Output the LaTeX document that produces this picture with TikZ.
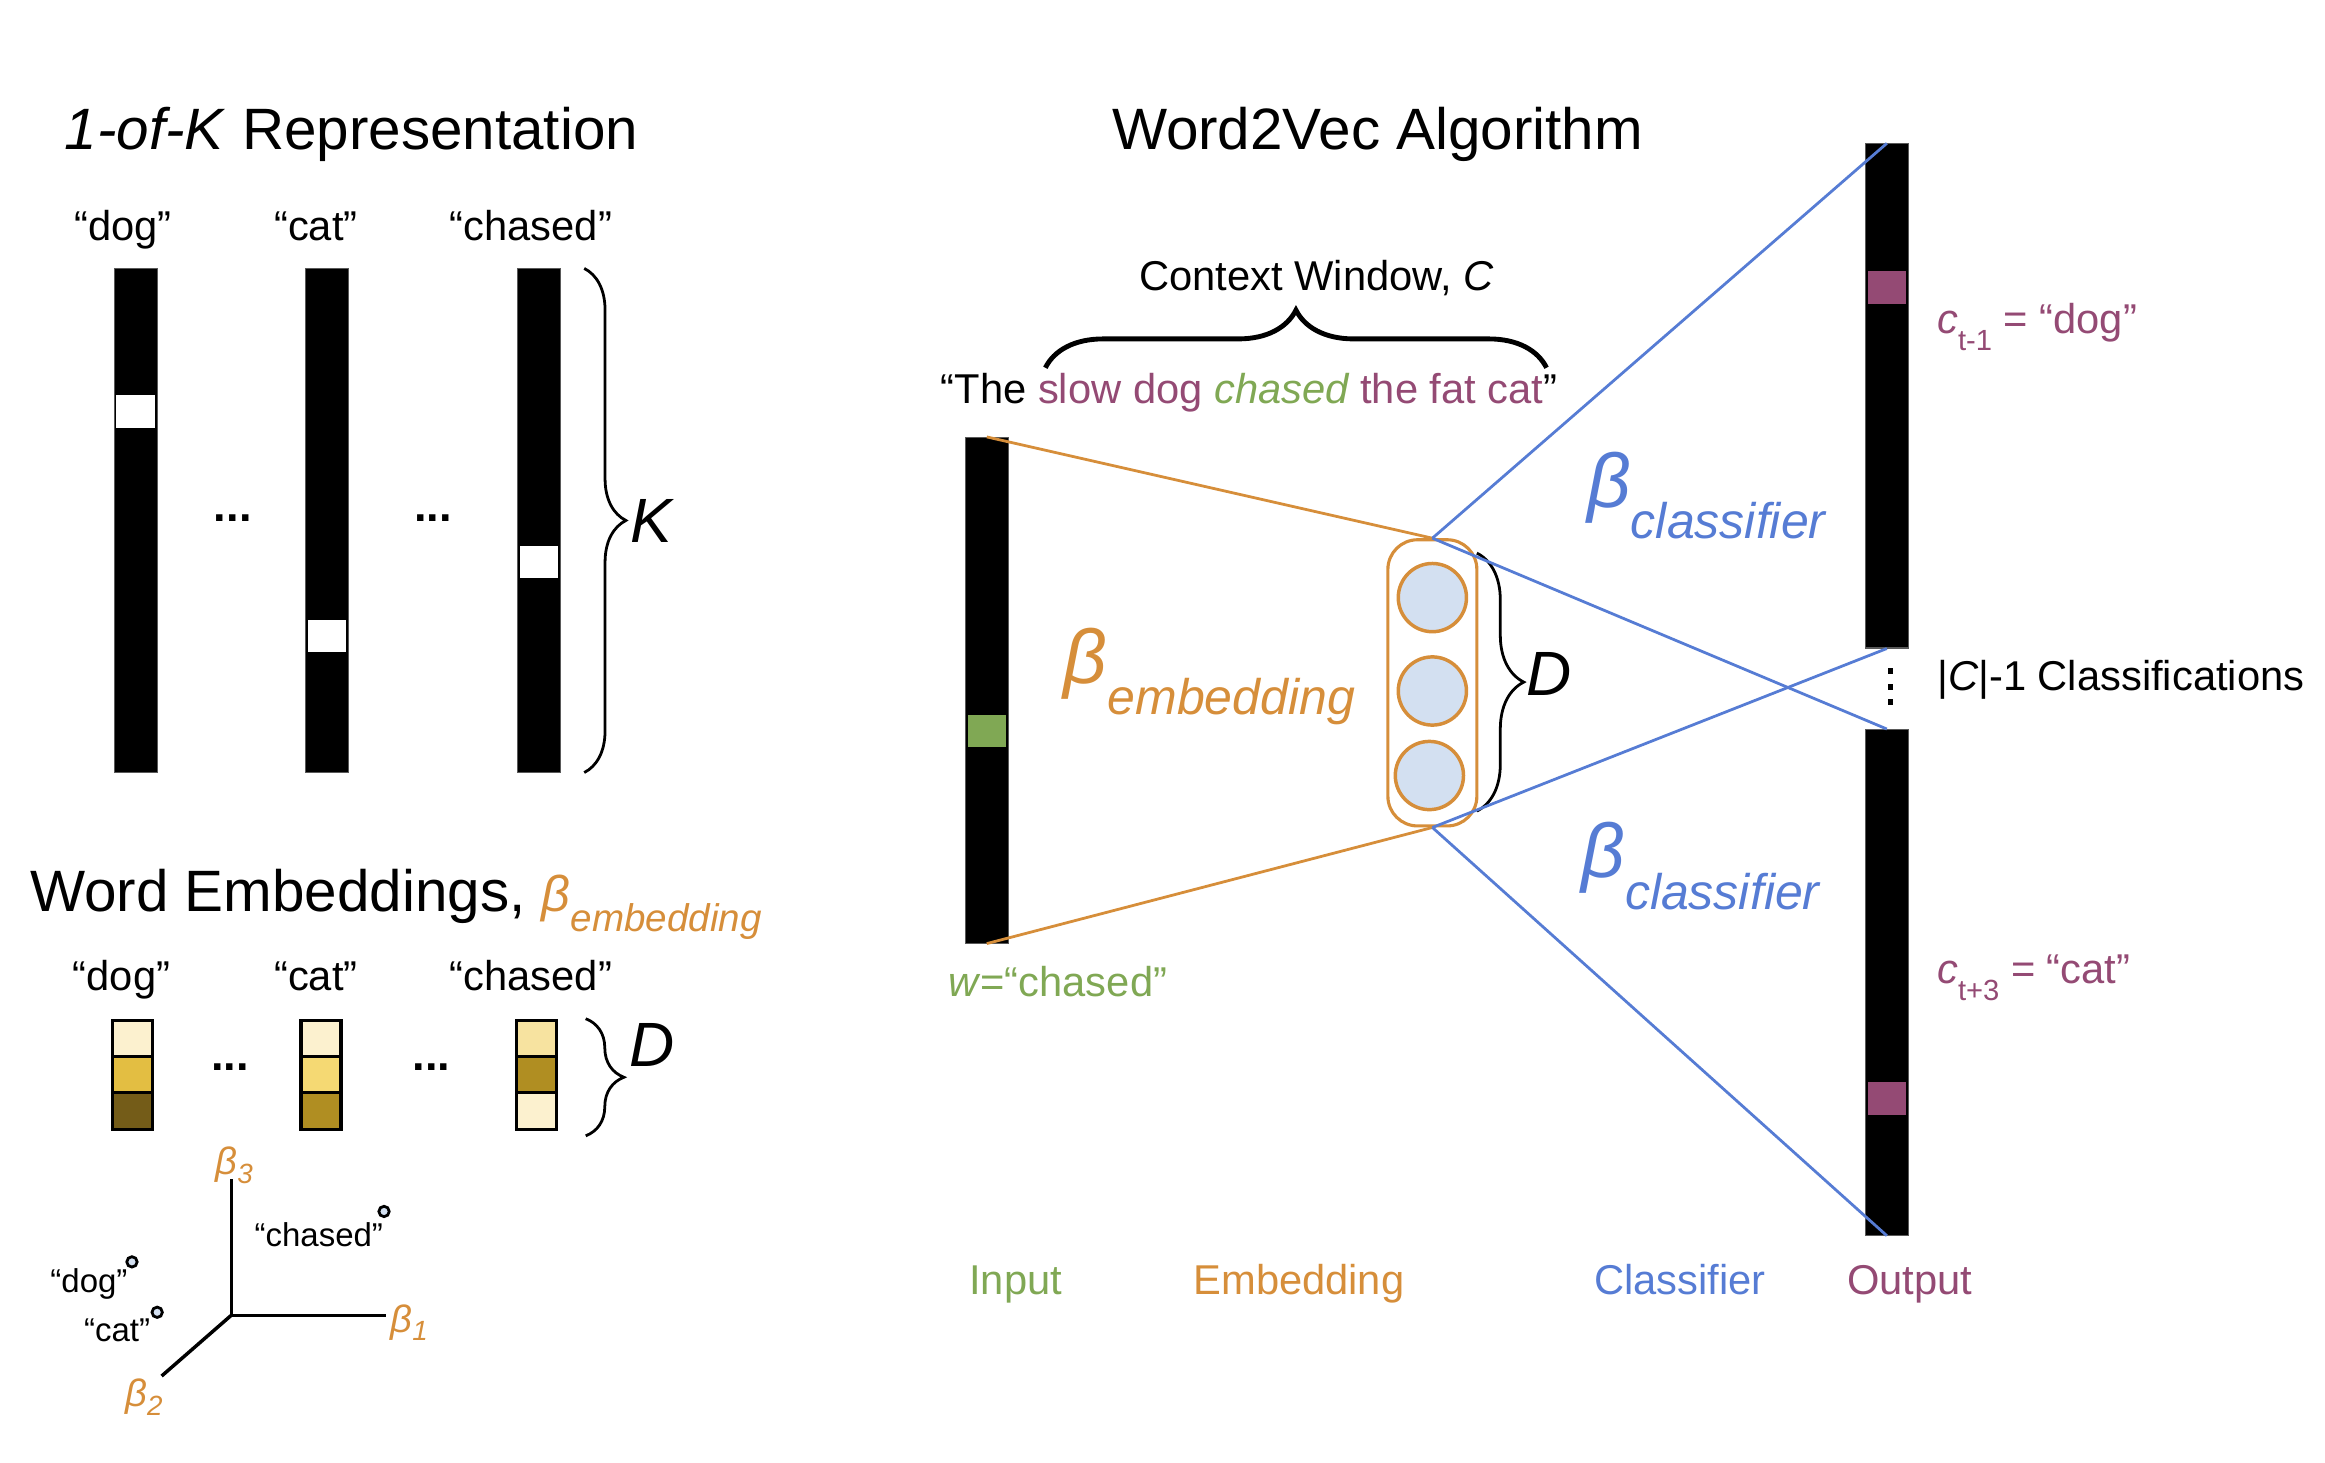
\documentclass[tikz,border=0pt]{standalone}
\usepackage{fontspec}
\setmainfont{Liberation Sans}
\usetikzlibrary{decorations.pathreplacing}
\definecolor{cgreen}{RGB}{128,168,84}
\definecolor{corange}{RGB}{214,142,58}
\definecolor{cblue}{RGB}{86,124,212}
\definecolor{cpurple}{RGB}{148,74,116}
\definecolor{cfill}{RGB}{211,224,241}
\definecolor{ycream}{RGB}{252,241,207}
\definecolor{yyellow}{RGB}{227,190,66}
\definecolor{ydark}{RGB}{116,92,24}
\definecolor{ylight}{RGB}{245,217,115}
\definecolor{ybrown}{RGB}{176,142,34}
\definecolor{ypale}{RGB}{247,227,160}
\newcommand\fsz[1]{\fontsize{#1}{#1}\selectfont}
\begin{document}
\begin{tikzpicture}[x=0.015cm,y=-0.015cm,
  txt/.style={inner sep=0pt, anchor=base, font=\fsz{12}},
  ttl/.style={inner sep=0pt, anchor=base, font=\fsz{16.8}},
  dots/.style={inner sep=0pt, anchor=base, font=\fsz{13}\bfseries},
  vbar/.style 2 args={fill=black, draw=black!65, line width=0.3pt, inner sep=0pt,
     minimum width=#1*0.015cm, minimum height=#2*0.015cm},
  hot/.style 2 args={fill=#1, draw=none, inner sep=0pt,
     minimum width=26*0.015cm, minimum height=#2*0.015cm},
  cell/.style={fill=#1, draw=black, line width=0.9pt, inner sep=0pt,
     minimum width=27*0.015cm, minimum height=24.5*0.015cm},
  neuron/.style={circle, draw=corange, fill=cfill, line width=1pt,
     minimum size=46*0.015cm, inner sep=0pt},
  pt/.style={circle, draw=black, fill=cfill, line width=0.8pt,
     minimum size=7*0.015cm, inner sep=0pt},
  brc/.style={decorate, decoration={brace, amplitude=#1}, line width=0.8pt},
  olink/.style={draw=corange, line width=0.8pt},
  blink/.style={draw=cblue, line width=0.8pt},
  axis/.style={draw=black, line width=1pt}
]
\useasboundingbox (0,0) rectangle (1568,986);

% ---------------- 1-of-K representation ----------------
\node[ttl] (tk) at (237,101) {\textit{1-of-K} Representation};
\node[txt] (ldog) at (83,162) {“dog”};
\node[txt] (lcat) at (213,162) {“cat”};
\node[txt] (lchs) at (358,162) {“chased”};
\node[vbar={29}{340}] (k1) at (91.5,351) {};
\node[vbar={29}{340}] (k2) at (220.5,351) {};
\node[vbar={29}{340}] (k3) at (363.5,351) {};
\node[hot={white}{22}] (h1) at (91.5,277.5) {};
\node[hot={white}{22}] (h2) at (220.5,429) {};
\node[hot={white}{22}] (h3) at (363.5,379) {};
\node[dots] (kd1) at (157,352) {...};
\node[dots] (kd2) at (292,352) {...};
\draw[brc=12pt] (394,181) -- (394,521);
\node[inner sep=0pt, anchor=base west, font=\fsz{18}\itshape] (kK) at (425,366) {K};

% ---------------- Word embeddings ----------------
\node[ttl, anchor=base west] (tw) at (20,615) {Word Embeddings, \textcolor{corange}{\fsz{14.5}\itshape β\lower5.5pt\hbox{\fsz{11.1}\itshape embedding}}};
\node[txt] (edog) at (82,668) {“dog”};
\node[txt] (ecat) at (213,668) {“cat”};
\node[txt] (echs) at (358,668) {“chased”};
\node[cell=ycream]  (a1) at (89.5,700.3) {};
\node[cell=yyellow] (a2) at (89.5,724.8) {};
\node[cell=ydark]   (a3) at (89.5,749.3) {};
\node[cell=ycream]  (b1) at (216.5,700.3) {};
\node[cell=ylight]  (b2) at (216.5,724.8) {};
\node[cell=ybrown]  (b3) at (216.5,749.3) {};
\node[cell=ypale]   (c1) at (362,700.3) {};
\node[cell=ybrown]  (c2) at (362,724.8) {};
\node[cell=ycream]  (c3) at (362,749.3) {};
\node[dots] (ed1) at (155,722) {...};
\node[dots] (ed2) at (291,722) {...};
\draw[brc=11pt] (395,687) -- (395,766);
\node[inner sep=0pt, anchor=base west, font=\fsz{18}\itshape] (eD) at (424,719) {D};

% ---------------- 3D embedding space ----------------
\coordinate (O) at (156,887);
\coordinate (A1) at (260,887);
\coordinate (A2) at (109,928);
\coordinate (A3) at (156,795);
\draw[axis] (O) -- (A1);
\draw[axis] (O) -- (A2);
\draw[axis] (O) -- (A3);
\node[inner sep=0pt, text=corange, font=\fsz{11}\itshape] (b3l) at (158,786) {β\lower2.5pt\hbox{\fsz{8}3}};
\node[inner sep=0pt, text=corange, font=\fsz{11}\itshape] (b1l) at (276,892) {β\lower2.5pt\hbox{\fsz{8}1}};
\node[inner sep=0pt, text=corange, font=\fsz{11}\itshape] (b2l) at (97,942) {β\lower2.5pt\hbox{\fsz{8}2}};
\node[inner sep=0pt, font=\fsz{9.5}] (pchl) at (215,833) {“chased”};
\node[inner sep=0pt, font=\fsz{9.5}] (pdgl) at (60,866) {“dog”};
\node[inner sep=0pt, font=\fsz{9.5}] (pctl) at (79,897) {“cat”};
\node[pt] (pch) at (259,817) {};
\node[pt] (pdg) at (89,851) {};
\node[pt] (pct) at (106,885) {};

% ---------------- Word2Vec ----------------
\node[ttl] (tw2v) at (929,101) {Word2Vec Algorithm};
\node[txt] (ctx) at (888,196) {Context Window, \textit{C}};
\draw[brc=16.6pt, line width=1.4pt] (705,248) -- (1043,248);
\node[txt, anchor=base west] (sent) at (634,272) {“The \textcolor{cpurple}{slow dog} \textcolor{cgreen}{\itshape chased} \textcolor{cpurple}{the fat cat}”};

% input
\node[vbar={29}{341}] (in) at (665.5,465.5) {};
\node[hot={cgreen}{22}] (inw) at (665.5,493) {};
\node[txt, anchor=base west, text=cgreen] (wlab) at (639,672) {\textit{w}=“chased”};

% embedding
\node[draw=corange, line width=0.9pt, rounded corners=0.3cm, inner sep=0pt,
      minimum width=60*0.015cm, minimum height=193*0.015cm] (emb) at (966,460.5) {};
\node[neuron] (e1) at (966,403) {};
\node[neuron] (e2) at (966,466) {};
\node[neuron] (e3) at (964,523) {};
\draw[brc=13.5pt] (996,373) -- (996,547);
\node[inner sep=0pt, anchor=base west, font=\fsz{18}\itshape] (mD) at (1029,469) {D};

% outputs
\node[vbar={29}{340}] (out1) at (1272.5,267) {};
\node[vbar={29}{341}] (out2) at (1272.5,662.5) {};
\node[hot={cpurple}{22}] (m1) at (1272.5,194) {};
\node[hot={cpurple}{22}] (m2) at (1272.5,741) {};
\node[txt, anchor=base west, text=cpurple] (c1l) at (1306,225) {\textit{c}\lower4.9pt\hbox{\fsz{8.4}t-1} = “dog”};
\node[txt, anchor=base west, text=cpurple] (c2l) at (1306,663) {\textit{c}\lower4.9pt\hbox{\fsz{8.4}t+3} = “cat”};
\fill (1273.5,450.5) rectangle (1276.5,454.5);
\fill (1273.5,461) rectangle (1276.5,465);
\fill (1273.5,471.5) rectangle (1276.5,475.5);
\node[txt, anchor=base west] (ncl) at (1306,466) {|\textit{C}|-1 Classifications};

% connectors
\draw[olink] (in.north) -- (emb.north);
\draw[olink] (in.south) -- (emb.south);
\draw[blink] (emb.north) -- (out1.north);
\draw[blink] (emb.north) -- (out2.north);
\draw[blink] (emb.south) -- (out1.south);
\draw[blink] (emb.south) -- (out2.south);

% weight labels
\node[inner sep=0pt, anchor=base west, text=corange] (bemb) at (717,461) {\fsz{22}\itshape β\lower9pt\hbox{\fsz{14.4}\itshape embedding}};
\node[inner sep=0pt, anchor=base west, text=cblue] (bcl1) at (1070,342) {\fsz{22}\itshape β\lower9pt\hbox{\fsz{14.4}\itshape classifier}};
\node[inner sep=0pt, anchor=base west, text=cblue] (bcl2) at (1066,592) {\fsz{22}\itshape β\lower9pt\hbox{\fsz{14.4}\itshape classifier}};

% bottom labels
\node[txt, text=cgreen] (lin) at (685,873) {Input};
\node[txt, text=corange] (lemb) at (876,873) {Embedding};
\node[txt, text=cblue] (lcls) at (1133,873) {Classifier};
\node[txt, text=cpurple] (lout) at (1288,873) {Output};
\end{tikzpicture}
\end{document}
